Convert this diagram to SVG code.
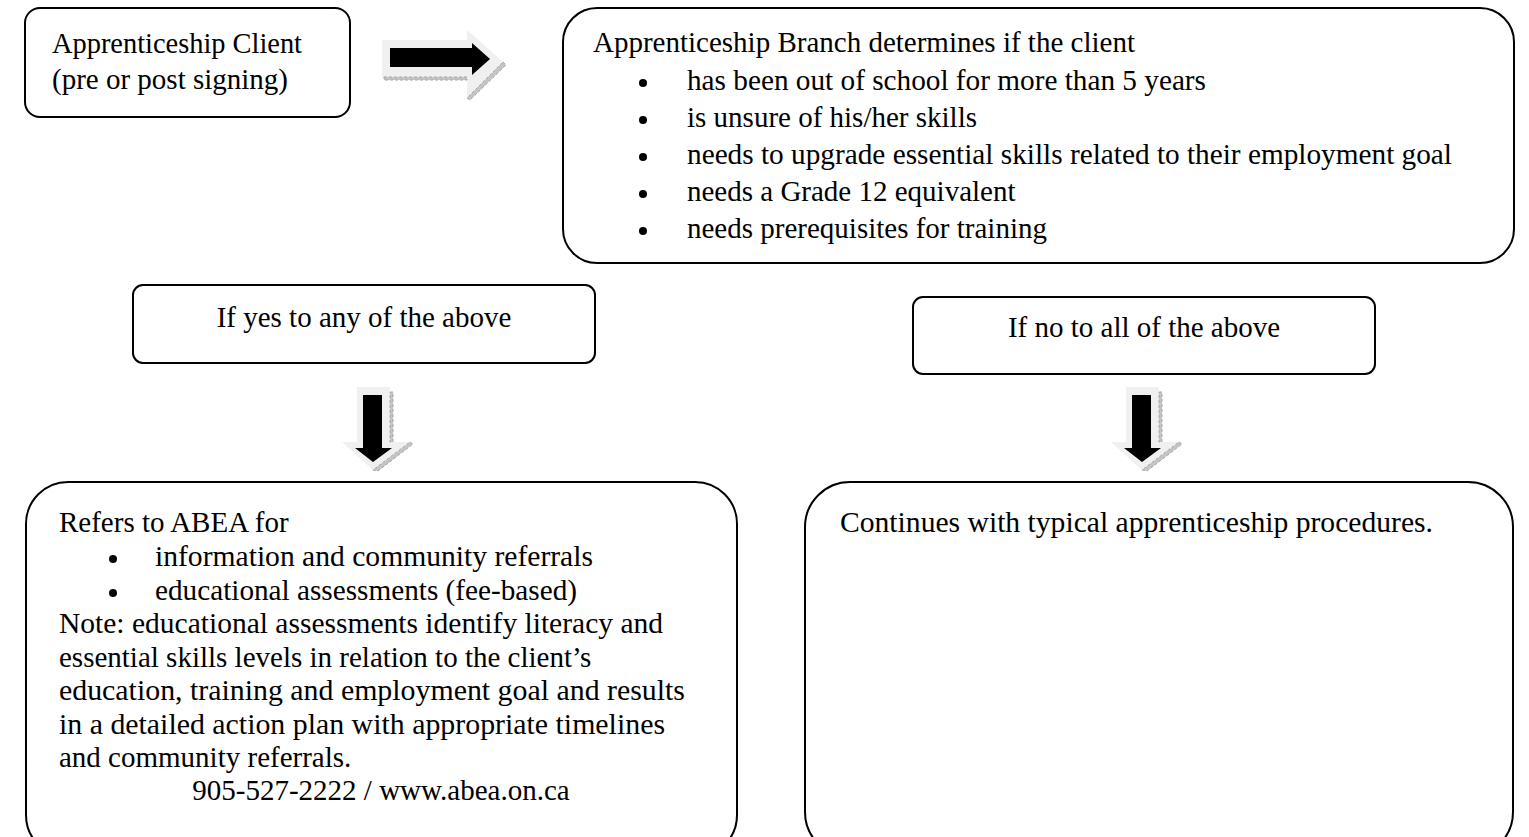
<svg xmlns="http://www.w3.org/2000/svg" width="1529" height="837" viewBox="0 0 1529 837">
<defs>
<style>
.box{fill:#fff;stroke:#000;stroke-width:2}
.t{font-family:"Liberation Serif","Times New Roman",serif;font-size:29px;fill:#000}
.light{fill:#f0f0f0}
.bevel{fill:#c4c4c4;stroke:#a8a8a8;stroke-width:1;stroke-dasharray:3 2}
.blk{fill:#000}
</style>
<g id="downArrow">
<polygon class="light" points="357,387 390,387 390,442 410,442 373,470 342,442 357,442"/>
<rect class="bevel" x="390" y="392" width="3" height="50"/>
<polygon class="bevel" points="410,442 413,444 378,471 373,470"/>
<polygon class="blk" points="363,395 382,395 382,448 392,448 373,462 355,448 363,448"/>
</g>
</defs>
<rect width="1529" height="837" fill="#fff"/>

<g id="connectors">
<g id="arrow-right">
<polygon class="light" points="382,40 467,40 467,30 503,62 467,98 467,77 382,77"/>
<rect class="bevel" x="384" y="77" width="83" height="3"/>
<polygon class="bevel" points="503,62 506,65 470,100 467,98"/>
<polygon class="blk" points="390,48 472,48 472,43 490,59 472,75 472,67 390,67"/>
</g>
<use id="arrow-down-yes" href="#downArrow"/>
<use id="arrow-down-no" href="#downArrow" transform="translate(769,0)"/>
</g>

<g id="node-client">
<rect class="box" x="25" y="8" width="325" height="109" rx="15"/>
<text class="t" x="52" y="53" textLength="250" lengthAdjust="spacingAndGlyphs">Apprenticeship Client</text>
<text class="t" x="52" y="89">(pre or post signing)</text>
</g>

<g id="node-branch">
<rect class="box" x="563" y="8" width="951" height="255" rx="34"/>
<text class="t" x="593" y="52">Apprenticeship Branch determines if the client</text>
<circle cx="643" cy="83" r="4"/>
<text class="t" x="687" y="90" textLength="519" lengthAdjust="spacingAndGlyphs">has been out of school for more than 5 years</text>
<circle cx="643" cy="120" r="4"/>
<text class="t" x="687" y="127">is unsure of his/her skills</text>
<circle cx="643" cy="157" r="4"/>
<text class="t" x="687" y="164" textLength="765" lengthAdjust="spacingAndGlyphs">needs to upgrade essential skills related to their employment goal</text>
<circle cx="643" cy="194" r="4"/>
<text class="t" x="687" y="201">needs a Grade 12 equivalent</text>
<circle cx="643" cy="231" r="4"/>
<text class="t" x="687" y="238">needs prerequisites for training</text>
</g>

<g id="node-yes">
<rect class="box" x="133" y="285" width="462" height="78" rx="10"/>
<text class="t" x="364" y="327" text-anchor="middle">If yes to any of the above</text>
</g>

<g id="node-no">
<rect class="box" x="913" y="297" width="462" height="77" rx="10"/>
<text class="t" x="1144" y="337" text-anchor="middle">If no to all of the above</text>
</g>

<g id="node-abea">
<rect class="box" x="26" y="482" width="711" height="375" rx="42"/>
<text class="t" x="59" y="532">Refers to ABEA for</text>
<circle cx="113" cy="559" r="4"/>
<text class="t" x="155" y="566" textLength="438" lengthAdjust="spacingAndGlyphs">information and community referrals</text>
<circle cx="113" cy="593" r="4"/>
<text class="t" x="155" y="600" textLength="422" lengthAdjust="spacingAndGlyphs">educational assessments (fee-based)</text>
<text class="t" x="59" y="633" textLength="604" lengthAdjust="spacingAndGlyphs">Note: educational assessments identify literacy and</text>
<text class="t" x="59" y="667">essential skills levels in relation to the client’s</text>
<text class="t" x="59" y="700" textLength="626" lengthAdjust="spacingAndGlyphs">education, training and employment goal and results</text>
<text class="t" x="59" y="734" textLength="606" lengthAdjust="spacingAndGlyphs">in a detailed action plan with appropriate timelines</text>
<text class="t" x="59" y="767">and community referrals.</text>
<text class="t" x="381" y="800" text-anchor="middle">905-527-2222 / www.abea.on.ca</text>
</g>

<g id="node-continues">
<rect class="box" x="805" y="482" width="708" height="375" rx="45"/>
<text class="t" x="840" y="532" textLength="593" lengthAdjust="spacingAndGlyphs">Continues with typical apprenticeship procedures.</text>
</g>
</svg>
